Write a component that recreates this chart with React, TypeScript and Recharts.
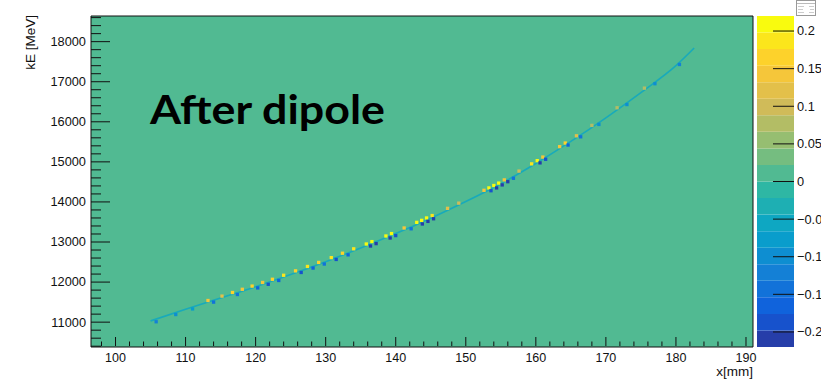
import {
  ComposedChart,
  XAxis,
  YAxis,
  CartesianGrid,
  Line,
  Scatter,
  ReferenceArea,
} from "recharts";

// canvas and frame geometry (px)
const WIDTH = 821;
const HEIGHT = 382;
const FRAME = { left: 91, top: 16, right: 753, bottom: 347 };
const PALETTE_LEFT = 757;
const PALETTE_RIGHT = 794;
// axes need a non-zero size to be drawn at all
const AXIS_SIZE = 1;

// histogram axes
const xRange: [number, number] = [96.5, 191];
const eRange: [number, number] = [10380, 18640];
const zRange: [number, number] = [-0.22, 0.22];
const nContours = 20;
const nBinsX = 200;
const nBinsE = 100;

const xMajorTicks = [100, 110, 120, 130, 140, 150, 160, 170, 180, 190];
const eMajorTicks = [11000, 12000, 13000, 14000, 15000, 16000, 17000, 18000];
const zTicks = [0.2, 0.15, 0.1, 0.05, 0, -0.05, -0.1, -0.15, -0.2];

// ridge of the kE vs x band
const ridgeX = [105, 110, 115, 120, 125, 130, 135, 140, 145, 150, 155, 160, 165, 170, 175, 180, 182.6];
const ridgeE = [11030, 11320, 11600, 11885, 12190, 12510, 12850, 13210, 13595, 14010, 14455, 14960, 15510, 16100, 16730, 17400, 17840];
const ridgeZ = -0.05;

// bins with positive content, just above the ridge: [x, kE, content]
const warmBins: [number, number, number][] = [
  [113.2, 11540, 0.15], [115.2, 11650, 0.12], [116.7, 11740, 0.16], [118.1, 11820, 0.14],
  [119.5, 11900, 0.17], [121.0, 11990, 0.15], [122.4, 12070, 0.17], [124.0, 12170, 0.18],
  [125.7, 12280, 0.16], [127.4, 12390, 0.18], [129.0, 12490, 0.16], [130.8, 12610, 0.18],
  [132.4, 12720, 0.17], [134.0, 12830, 0.18], [135.8, 12950, 0.2], [136.6, 13010, 0.2],
  [138.6, 13150, 0.2], [139.4, 13210, 0.2], [141.2, 13350, 0.15], [143.0, 13490, 0.2],
  [143.7, 13540, 0.22], [144.4, 13600, 0.2], [145.2, 13660, 0.18], [147.4, 13840, 0.12],
  [149.0, 13970, 0.1], [152.6, 14290, 0.15], [153.3, 14350, 0.2], [154.0, 14410, 0.22],
  [154.7, 14470, 0.2], [155.5, 14550, 0.15], [157.6, 14770, 0.1], [159.4, 14950, 0.18],
  [160.2, 15030, 0.2], [161.0, 15120, 0.15], [163.4, 15380, 0.14], [164.2, 15470, 0.16],
  [165.8, 15650, 0.12], [168.0, 15910, 0.08], [171.6, 16350, 0.08], [175.5, 16840, 0.07],
];

// bins with negative content, just below the ridge: [x, kE, content]
const coolBins: [number, number, number][] = [
  [105.8, 11010, -0.12], [108.6, 11190, -0.1], [111.0, 11330, -0.08],
  [114.0, 11500, -0.15], [117.4, 11690, -0.14], [120.3, 11855, -0.16], [121.8, 11945, -0.18],
  [123.3, 12040, -0.16], [126.5, 12240, -0.18], [128.2, 12350, -0.17], [129.8, 12450, -0.15],
  [131.5, 12565, -0.18], [133.2, 12680, -0.16], [136.4, 12900, -0.2], [137.2, 12960, -0.2],
  [139.2, 13100, -0.2], [140.0, 13160, -0.18], [142.2, 13330, -0.15], [143.8, 13450, -0.2],
  [144.6, 13515, -0.22], [145.4, 13580, -0.2], [153.6, 14280, -0.18], [154.4, 14350, -0.22],
  [155.2, 14425, -0.22], [156.0, 14505, -0.2], [156.8, 14590, -0.15], [160.6, 14975, -0.2],
  [161.4, 15065, -0.18], [164.6, 15420, -0.16], [166.4, 15625, -0.14], [169.0, 15935, -0.1],
  [173.0, 16430, -0.1], [177.0, 16950, -0.1], [180.5, 17430, -0.12],
];

// kBird palette stops
const birdStops = [0, 0.125, 0.25, 0.375, 0.5, 0.625, 0.75, 0.875, 1];
const birdR = [0.2082, 0.0592, 0.078, 0.0232, 0.1802, 0.5301, 0.8186, 0.9956, 0.9764];
const birdG = [0.1664, 0.3599, 0.5041, 0.6419, 0.7178, 0.7492, 0.7328, 0.7862, 0.9832];
const birdB = [0.5293, 0.8684, 0.8385, 0.7914, 0.6425, 0.4662, 0.3499, 0.1968, 0.0539];

function bird(t: number) {
  let i = 0;
  while (i < birdStops.length - 2 && t > birdStops[i + 1]) i++;
  const f = (t - birdStops[i]) / (birdStops[i + 1] - birdStops[i]);
  const mix = (c: number[]) => Math.round(255 * (c[i] + f * (c[i + 1] - c[i])));
  return `rgb(${mix(birdR)},${mix(birdG)},${mix(birdB)})`;
}

const contourColors = Array.from({ length: nContours }, (_, k) => bird((k + 0.99) / nContours));
const dz = (zRange[1] - zRange[0]) / nContours;

function contourColor(z: number) {
  const k = Math.floor((z - zRange[0]) / dz + 1e-9);
  return contourColors[Math.max(0, Math.min(nContours - 1, k))];
}

function minorTicks(lo: number, hi: number, step: number) {
  const out: number[] = [];
  const start = Math.ceil(lo / step) * step;
  for (let v = start; v <= hi; v += step) out.push(v);
  return out;
}

const xTicks = minorTicks(xRange[0], xRange[1], (xMajorTicks[1] - xMajorTicks[0]) / 5);
const eTicks = minorTicks(eRange[0], eRange[1], (eMajorTicks[1] - eMajorTicks[0]) / 5);

const ridge = ridgeX.map((x, i) => ({ x, e: ridgeE[i] }));
const cells = [...warmBins, ...coolBins].map(([x, e, z]) => ({ x, e, z }));
const bands = contourColors.map((color, k) => ({
  lo: zRange[0] + k * dz,
  hi: zRange[0] + (k + 1) * dz,
  color,
}));

const axisFont = "'Liberation Sans', Arial, Helvetica, sans-serif";
const binW = (FRAME.right - FRAME.left) / nBinsX;
const binH = (FRAME.bottom - FRAME.top) / nBinsE;

function XTick({ x, y, payload }: any) {
  const major = payload.value % 10 === 0;
  const y0 = y - AXIS_SIZE;
  return (
    <g>
      <line x1={x} x2={x} y1={y0} y2={y0 - (major ? 9 : 4.5)} stroke="#111" />
      {major && (
        <text x={x} y={y0 + 16} textAnchor="middle" fontSize={12.5} fontFamily={axisFont} fill="#111">
          {payload.value}
        </text>
      )}
    </g>
  );
}

function ETick({ x, y, payload }: any) {
  const major = payload.value % 1000 === 0;
  return (
    <g>
      <line x1={x} x2={x + (major ? 19 : 10)} y1={y} y2={y} stroke="#111" />
      {major && (
        <text x={x - 5} y={y + 4.4} textAnchor="end" fontSize={12.8} fontFamily={axisFont} fill="#111">
          {payload.value}
        </text>
      )}
    </g>
  );
}

function ZTick({ x, y, payload }: any) {
  return (
    <g>
      <line x1={x - 21} x2={x} y1={y} y2={y} stroke="#111" />
      <text x={x + 3} y={y + 4.4} fontSize={12.8} fontFamily={axisFont} fill="#111">
        {String(payload.value).replace("-", "\u2212")}
      </text>
    </g>
  );
}

function BinCell(props: any) {
  const { cx, cy, payload } = props;
  return (
    <rect x={cx - binW / 2} y={cy - binH / 2} width={binW} height={binH} fill={contourColor(payload.z)} />
  );
}

export default function App() {
  return (
    <div
      style={{
        position: "absolute",
        left: 0,
        top: 0,
        width: WIDTH,
        height: HEIGHT,
        background: "#fff",
        overflow: "hidden",
      }}
    >
      <ComposedChart
        width={WIDTH}
        height={HEIGHT}
        margin={{
          top: FRAME.top,
          right: WIDTH - FRAME.right,
          bottom: HEIGHT - FRAME.bottom - AXIS_SIZE,
          left: FRAME.left - AXIS_SIZE,
        }}
      >
        <CartesianGrid horizontal={false} vertical={false} fill={contourColor(0)} fillOpacity={1} />
        <XAxis
          type="number"
          dataKey="x"
          domain={xRange}
          allowDataOverflow
          ticks={xTicks}
          interval={0}
          height={AXIS_SIZE}
          tickSize={0}
          tickMargin={0}
          axisLine={false}
          tickLine={false}
          tick={<XTick />}
        />
        <YAxis
          type="number"
          dataKey="e"
          domain={eRange}
          allowDataOverflow
          ticks={eTicks}
          interval={0}
          width={AXIS_SIZE}
          tickSize={0}
          tickMargin={0}
          axisLine={false}
          tickLine={false}
          tick={<ETick />}
        />
        <Line
          data={ridge}
          dataKey="e"
          type="monotone"
          stroke={contourColor(ridgeZ)}
          strokeWidth={1.6}
          strokeOpacity={0.85}
          dot={false}
          isAnimationActive={false}
        />
        <Scatter data={cells} shape={<BinCell />} isAnimationActive={false} />
        <ReferenceArea
          x1={xRange[0]}
          x2={xRange[1]}
          y1={eRange[0]}
          y2={eRange[1]}
          fill="none"
          stroke="#111"
          strokeWidth={1}
        />
      </ComposedChart>

      <div style={{ position: "absolute", left: PALETTE_LEFT, top: 0 }}>
        <ComposedChart
          width={WIDTH - PALETTE_LEFT}
          height={HEIGHT}
          margin={{
            top: FRAME.top,
            right: WIDTH - PALETTE_RIGHT - AXIS_SIZE,
            bottom: HEIGHT - FRAME.bottom,
            left: 0,
          }}
        >
          <XAxis type="number" dataKey="x" domain={[0, 1]} allowDataOverflow hide />
          {bands.map((b, k) => (
            <ReferenceArea
              key={k}
              x1={0}
              x2={1}
              y1={b.lo}
              y2={b.hi}
              fill={b.color}
              fillOpacity={1}
              stroke="none"
            />
          ))}
          <YAxis
            type="number"
            domain={zRange}
            allowDataOverflow
            orientation="right"
            ticks={zTicks}
            interval={0}
            width={AXIS_SIZE}
            tickSize={0}
            tickMargin={0}
            axisLine={false}
            tickLine={false}
            tick={<ZTick />}
          />
        </ComposedChart>
      </div>

      <svg
        width={WIDTH}
        height={HEIGHT}
        style={{ position: "absolute", left: 0, top: 0, pointerEvents: "none" }}
      >
        <text
          transform="translate(35,15) rotate(-90)"
          textAnchor="end"
          fontSize={13.5}
          fontFamily={axisFont}
          fill="#111"
        >
          kE [MeV]
        </text>
        <text x={FRAME.right} y={375.5} textAnchor="end" fontSize={13.5} fontFamily={axisFont} fill="#111">
          x[mm]
        </text>
        <text
          x={150}
          y={124}
          fontSize={40}
          fontWeight={700}
          fontFamily="Lato, 'Open Sans', sans-serif"
          textLength={235}
          lengthAdjust="spacingAndGlyphs"
          fill="#000"
        >
          After dipole
        </text>
        <g>
          <rect x={796.5} y={0.5} width={19} height={15} fill="#fff" stroke="#999" />
          <line x1={797} x2={815} y1={3.5} y2={3.5} stroke="#bbb" />
          <line x1={798} x2={804} y1={6.5} y2={6.5} stroke="#ccc" />
          <line x1={809} x2={814} y1={6.5} y2={6.5} stroke="#ccc" />
          <line x1={798} x2={803} y1={9.5} y2={9.5} stroke="#ccc" />
          <line x1={810} x2={814} y1={9.5} y2={9.5} stroke="#ccc" />
          <line x1={798} x2={804} y1={12.5} y2={12.5} stroke="#ccc" />
          <line x1={809} x2={814} y1={12.5} y2={12.5} stroke="#ccc" />
        </g>
      </svg>
    </div>
  );
}
